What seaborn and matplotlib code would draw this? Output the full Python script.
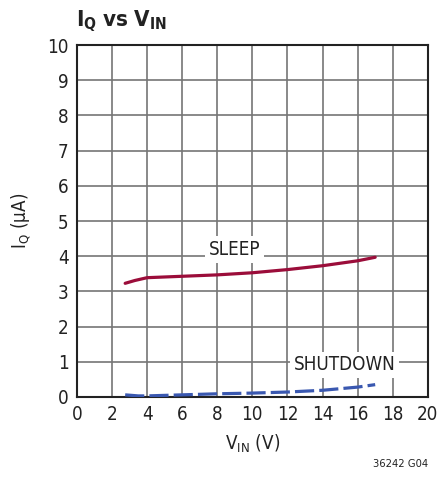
import seaborn as sns
import pandas as pd
import matplotlib.pyplot as plt

vin_sleep = [2.75, 3.3, 4.0, 5, 6, 8, 10, 12, 14, 16, 17]
iq_sleep = [3.23, 3.31, 3.39, 3.41, 3.43, 3.47, 3.53, 3.62, 3.73, 3.87, 3.97]
vin_shdn = [2.75, 3.5, 4, 6, 8, 10, 12, 14, 16, 17]
iq_shdn = [0.06, 0.03, 0.03, 0.06, 0.09, 0.11, 0.14, 0.19, 0.28, 0.35]

sns.set_theme(style='white')
plt.rcParams['font.family'] = ['DejaVu Sans']
plt.rcParams['font.stretch'] = 'condensed'
plt.rcParams['mathtext.fontset'] = 'custom'
plt.rcParams['mathtext.rm'] = 'DejaVu Sans:stretch=condensed'
plt.rcParams['mathtext.it'] = 'DejaVu Sans:stretch=condensed'
plt.rcParams['mathtext.bf'] = 'DejaVu Sans:stretch=condensed:weight=bold'

sleep = pd.DataFrame({'vin': vin_sleep, 'iq': iq_sleep})
shdn = pd.DataFrame({'vin': vin_shdn, 'iq': iq_shdn})

fig = plt.figure(figsize=(4.37, 4.8), dpi=100)
ax = fig.add_axes([0.176, 0.173, 0.803, 0.733])

sns.lineplot(data=sleep, x='vin', y='iq', ax=ax, color='#9b0d3a', lw=2.3, zorder=3)
sns.lineplot(data=shdn, x='vin', y='iq', ax=ax, color='#3a58b0', lw=2.3,
             dashes=False, zorder=3).lines[-1].set_dashes((6, 1.6))

ax.set_xlim(0, 20)
ax.set_ylim(0, 10)
ax.set_xticks(range(0, 21, 2))
ax.set_yticks(range(0, 11))
ax.grid(True, color='#767676', lw=1.2)
for s in ax.spines.values():
    s.set_color('#222222')
    s.set_linewidth(1.5)
ax.tick_params(labelsize=13.5, length=0, pad=6, colors='#222222')

ax.set_xlabel(r'$\mathregular{V_{IN}}$ (V)', fontsize=13.5, color='#222222', labelpad=6)
ax.set_ylabel(r'$\mathregular{I_Q}$ (µA)', fontsize=13.5, color='#222222', labelpad=10)

box = dict(facecolor='white', edgecolor='none', pad=2.5)
ax.text(9.0, 4.19, 'SLEEP', fontsize=13.5, ha='center', va='center', bbox=box, color='#222222')
ax.text(15.25, 0.91, 'SHUTDOWN', fontsize=13.5, ha='center', va='center', bbox=box, color='#222222')

fig.text(0.174, 0.955, r'$\mathbf{I_Q}$ $\mathbf{vs}$ $\mathbf{V_{IN}}$', fontsize=16,
         ha='left', va='center', color='#222222')
fig.text(0.979, 0.033, '36242 G04', fontsize=8, ha='right', va='center', color='#222222')

fig.savefig('out.png', dpi=100)
